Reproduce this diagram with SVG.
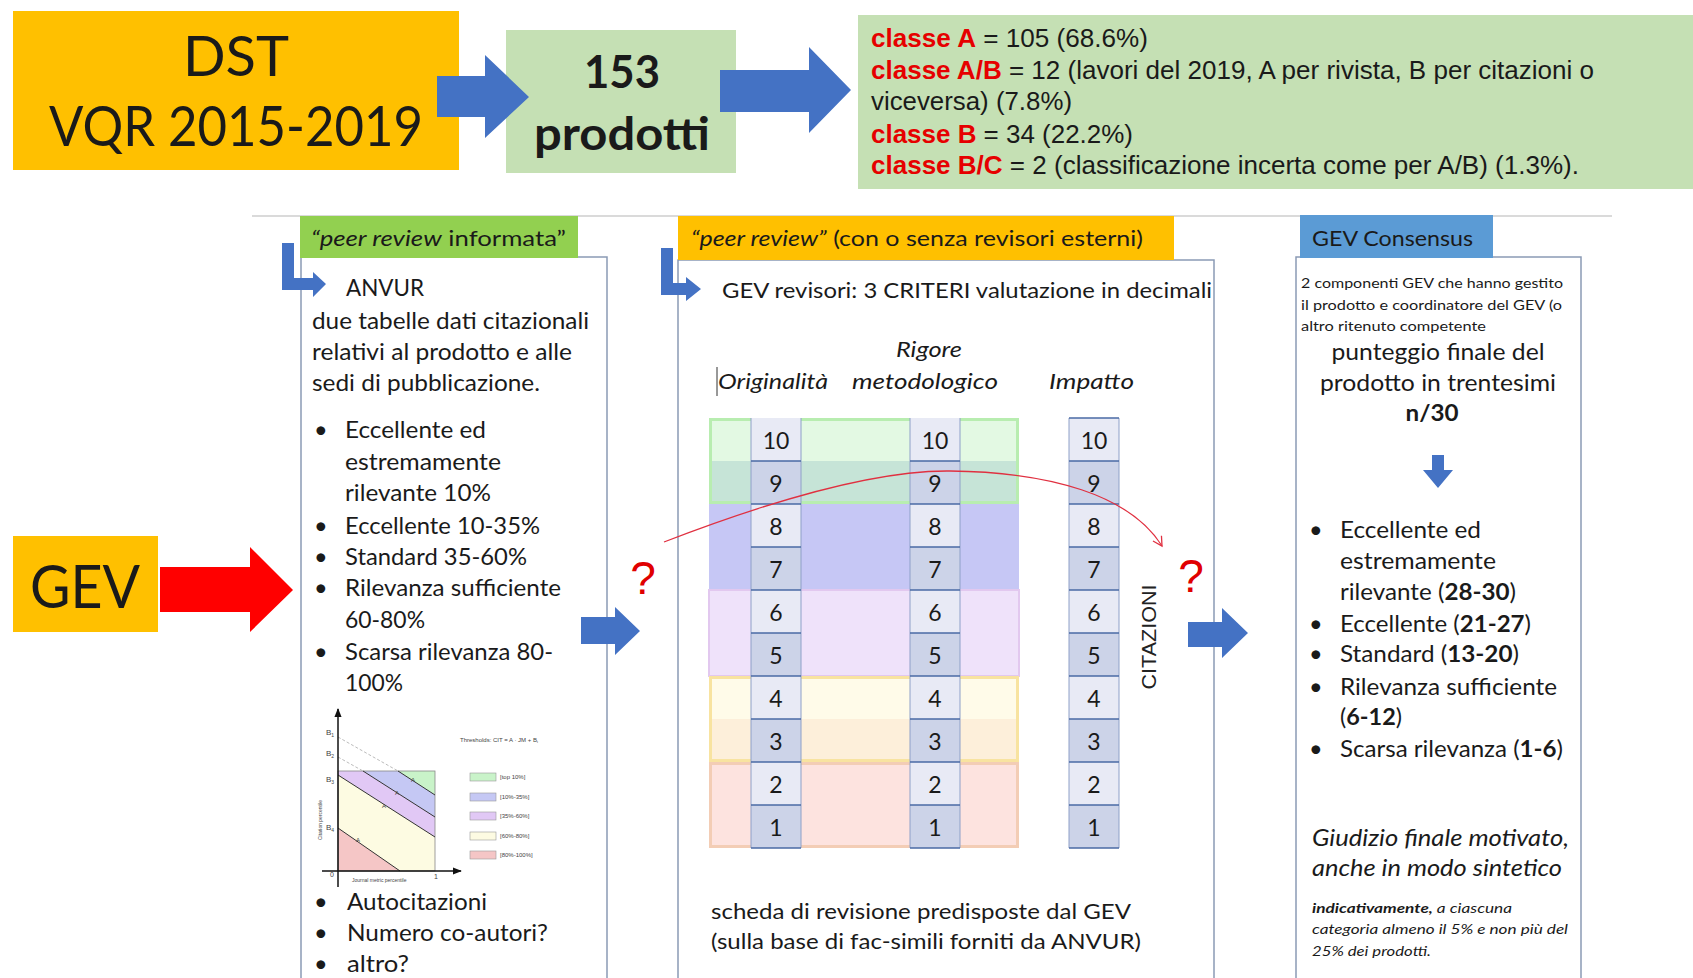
<svg xmlns="http://www.w3.org/2000/svg" width="1693" height="978" viewBox="0 0 1693 978">
<style>
.f{font-family:Lato,"Open Sans","Liberation Sans",sans-serif;fill:#1a1a1a}
.a{font-family:"Liberation Sans",Arial,sans-serif}
.red{fill:#e60000;font-weight:bold}
.blk{fill:#1a1a1a}
.b{font-weight:bold}
.i{font-style:italic}
.panel{fill:none;stroke:#8a9bb5;stroke-width:1.5}
.blue{fill:#4472c4}
.num{font-family:Lato,"Open Sans",sans-serif;font-size:23px;fill:#1a1a1a;text-anchor:middle}
.cl{fill:#e8eaf5}
.cd{fill:#ccd3e8}
.rl{stroke:#4a6aa5;stroke-width:1.3}
.vl{stroke:#8ea0c8;stroke-width:1}
.q{font-family:"Liberation Sans",sans-serif;font-size:46px;fill:#e00000;text-anchor:middle}
.ch{font-family:"Liberation Sans",sans-serif;fill:#444}
</style>
<defs>
<marker id="redv" viewBox="0 0 12 12" refX="10" refY="6" markerWidth="12" markerHeight="12" markerUnits="userSpaceOnUse" orient="auto">
<path d="M1,1 L10,6 L1,11" fill="none" stroke="#e03040" stroke-width="1.3"/>
</marker>
<marker id="axh" viewBox="0 0 10 10" refX="9" refY="5" markerWidth="9" markerHeight="9" markerUnits="userSpaceOnUse" orient="auto">
<path d="M0,1 L10,5 L0,9 Z" fill="#111"/>
</marker>
</defs>
<rect width="1693" height="978" fill="#ffffff"/>

<!-- top row -->
<g id="dst">
<rect x="13" y="11" width="446" height="159" fill="#ffc000"/>
<text class="f" x="236" y="76" font-size="56" text-anchor="middle">DST</text>
<text class="f" x="236" y="146" font-size="56" text-anchor="middle" textLength="374" lengthAdjust="spacingAndGlyphs">VQR 2015-2019</text>
</g>
<g id="prodotti">
<rect x="506" y="30" width="230" height="143" fill="#c5e0b4"/>
<text class="f b" x="622" y="88" font-size="46" text-anchor="middle" textLength="76" lengthAdjust="spacingAndGlyphs">153</text>
<text class="f b" x="622" y="150" font-size="46" text-anchor="middle" textLength="176" lengthAdjust="spacingAndGlyphs">prodotti</text>
</g>
<g id="classi">
<rect x="858" y="15" width="835" height="174" fill="#c5e0b4"/>
<text class="a" font-size="25" x="871" y="47" textLength="277" lengthAdjust="spacingAndGlyphs"><tspan class="red">classe A</tspan><tspan class="blk"> = 105 (68.6%)</tspan></text>
<text class="a" font-size="25" x="871" y="79" textLength="723" lengthAdjust="spacingAndGlyphs"><tspan class="red">classe A/B</tspan><tspan class="blk"> = 12 (lavori del 2019, A per rivista, B per citazioni o</tspan></text>
<text class="a blk" font-size="25" x="871" y="110" textLength="201" lengthAdjust="spacingAndGlyphs">viceversa) (7.8%)</text>
<text class="a" font-size="25" x="871" y="143" textLength="262" lengthAdjust="spacingAndGlyphs"><tspan class="red">classe B</tspan><tspan class="blk"> = 34 (22.2%)</tspan></text>
<text class="a" font-size="25" x="871" y="174" textLength="708" lengthAdjust="spacingAndGlyphs"><tspan class="red">classe B/C</tspan><tspan class="blk"> = 2 (classificazione incerta come per A/B) (1.3%).</tspan></text>
</g>

<line x1="252" y1="216" x2="1612" y2="216" stroke="#dadada" stroke-width="2"/>

<g id="gev">
<rect x="13" y="536" width="145" height="96" fill="#ffc000"/>
<text class="f" x="85" y="608" font-size="60" text-anchor="middle" textLength="110" lengthAdjust="spacingAndGlyphs">GEV</text>
</g>

<!-- left panel -->
<g id="panel-informata">
<path class="panel" d="M301,990 V257 H607 V990"/>
<rect x="300" y="216" width="278" height="42" fill="#92d050"/>
<text class="f" x="311" y="246" font-size="22" textLength="255" lengthAdjust="spacingAndGlyphs"><tspan class="i">“peer review</tspan> informata”</text>
<text class="f" x="346" y="296" font-size="23.5" textLength="78" lengthAdjust="spacingAndGlyphs">ANVUR</text>
<text class="f" x="312" y="329" font-size="23.5" textLength="277" lengthAdjust="spacingAndGlyphs">due tabelle dati citazionali</text>
<text class="f" x="312" y="360" font-size="23.5" textLength="260" lengthAdjust="spacingAndGlyphs">relativi al prodotto e alle</text>
<text class="f" x="312" y="391" font-size="23.5" textLength="228" lengthAdjust="spacingAndGlyphs">sedi di pubblicazione.</text>
<g class="f" font-size="23.5">
<text x="314" y="438">•</text><text x="345" y="438" textLength="141" lengthAdjust="spacingAndGlyphs">Eccellente ed</text>
<text x="345" y="470" textLength="156" lengthAdjust="spacingAndGlyphs">estremamente</text>
<text x="345" y="501" textLength="146" lengthAdjust="spacingAndGlyphs">rilevante 10%</text>
<text x="314" y="534">•</text><text x="345" y="534" textLength="195" lengthAdjust="spacingAndGlyphs">Eccellente 10-35%</text>
<text x="314" y="565">•</text><text x="345" y="565" textLength="182" lengthAdjust="spacingAndGlyphs">Standard 35-60%</text>
<text x="314" y="596">•</text><text x="345" y="596" textLength="216" lengthAdjust="spacingAndGlyphs">Rilevanza sufficiente</text>
<text x="345" y="628" textLength="80" lengthAdjust="spacingAndGlyphs">60-80%</text>
<text x="314" y="660">•</text><text x="345" y="660" textLength="208" lengthAdjust="spacingAndGlyphs">Scarsa rilevanza 80-</text>
<text x="345" y="691" textLength="58" lengthAdjust="spacingAndGlyphs">100%</text>
<text x="314" y="910">•</text><text x="347" y="910" textLength="140" lengthAdjust="spacingAndGlyphs">Autocitazioni</text>
<text x="314" y="941">•</text><text x="347" y="941" textLength="201" lengthAdjust="spacingAndGlyphs">Numero co-autori?</text>
<text x="314" y="972">•</text><text x="347" y="972" textLength="62" lengthAdjust="spacingAndGlyphs">altro?</text>
</g>
<!-- chart -->
<g id="chart">
<polygon points="398,771 435,771 435,795" fill="#c9f3c9"/>
<polygon points="363,771 398,771 435,795 435,817" fill="#c5c8f4"/>
<polygon points="338,771 363,771 435,817 435,837 338,775" fill="#e1c8f5"/>
<polygon points="338,775 435,837 435,871 400,871 338,828" fill="#fdfbe2"/>
<polygon points="338,828 400,871 338,871" fill="#f5c6c6"/>
<rect x="338" y="771" width="97" height="100" fill="none" stroke="#888" stroke-width="0.8"/>
<g stroke="#333" stroke-width="1" fill="none">
<line x1="398" y1="771" x2="435" y2="795"/>
<line x1="363" y1="771" x2="435" y2="817"/>
<line x1="338" y1="775" x2="435" y2="837"/>
<line x1="338" y1="828" x2="400" y2="871"/>
</g>
<g stroke="#aaa" stroke-width="0.8" stroke-dasharray="3,2">
<line x1="338" y1="737" x2="398" y2="771"/>
<line x1="338" y1="757" x2="363" y2="771"/>
</g>
<line x1="338" y1="887" x2="338" y2="709" stroke="#111" stroke-width="1.5" marker-end="url(#axh)"/>
<line x1="322" y1="871" x2="461" y2="871" stroke="#111" stroke-width="1.5" marker-end="url(#axh)"/>
<g class="ch" font-size="8">
<text x="326" y="735">B<tspan font-size="5" dy="2">1</tspan></text>
<text x="326" y="756">B<tspan font-size="5" dy="2">2</tspan></text>
<text x="326" y="782">B<tspan font-size="5" dy="2">3</tspan></text>
<text x="326" y="830">B<tspan font-size="5" dy="2">4</tspan></text>
<text x="330" y="877" font-size="7">0</text>
<text x="434" y="879" font-size="7">1</text>
</g>
<g class="ch" font-size="6">
<text x="411" y="782">A</text>
<text x="395" y="795">A</text>
<text x="382" y="808">A</text>
<text x="356" y="842">A</text>
<text x="352" y="882" font-size="5">Journal metric percentile</text>
<text x="322" y="820" font-size="5" text-anchor="middle" transform="rotate(-90 322 820)">Citation percentile</text>
<text x="460" y="742" font-size="6">Thresholds:  CIT = A · JM + B<tspan font-size="4" dy="1">i</tspan></text>
</g>
<g stroke="#999" stroke-width="0.6">
<rect x="470" y="773" width="26" height="8" fill="#c9f3c9"/>
<rect x="470" y="793" width="26" height="8" fill="#c5c8f4"/>
<rect x="470" y="812" width="26" height="8" fill="#e1c8f5"/>
<rect x="470" y="832" width="26" height="8" fill="#fdfbe2"/>
<rect x="470" y="851" width="26" height="8" fill="#f5c6c6"/>
</g>
<g class="ch" font-size="6">
<text x="500" y="779">[top 10%]</text>
<text x="500" y="799">[10%-35%]</text>
<text x="500" y="818">[35%-60%]</text>
<text x="500" y="838">[60%-80%]</text>
<text x="500" y="857">[80%-100%]</text>
</g>
</g>
</g>

<!-- middle panel -->
<g id="panel-peer">
<path class="panel" d="M678,990 V260 H1214 V990"/>
<rect x="678" y="216" width="496" height="44" fill="#ffc000"/>
<text class="f" x="691" y="246" font-size="22" textLength="452" lengthAdjust="spacingAndGlyphs"><tspan class="i">“peer review”</tspan> (con o senza revisori esterni)</text>
<text class="f" x="722" y="298" font-size="22" textLength="490" lengthAdjust="spacingAndGlyphs">GEV revisori: 3 CRITERI valutazione in decimali</text>
<text class="f i" x="929" y="357" font-size="21" text-anchor="middle" textLength="66" lengthAdjust="spacingAndGlyphs">Rigore</text>
<text class="f i" x="718" y="389" font-size="21" textLength="110" lengthAdjust="spacingAndGlyphs">Originalità</text>
<line x1="717" y1="367" x2="717" y2="396" stroke="#333" stroke-width="1"/>
<text class="f i" x="852" y="389" font-size="21" textLength="146" lengthAdjust="spacingAndGlyphs">metodologico</text>
<text class="f i" x="1049" y="389" font-size="21" textLength="85" lengthAdjust="spacingAndGlyphs">Impatto</text>

<g id="bands">
<rect x="709" y="418" width="310" height="43" fill="#e3f9e3"/>
<rect x="709" y="461" width="310" height="43" fill="#c6e4d7"/>
<rect x="710.5" y="419.5" width="307" height="83" fill="none" stroke="#b8edb0" stroke-width="3"/>
<rect x="709" y="504" width="310" height="86" fill="#c6c7f5"/>
<rect x="709" y="590" width="310" height="86" fill="#efe2fa" stroke="#e2c8ef" stroke-width="2"/>
<rect x="709" y="676" width="310" height="43" fill="#fffbe9"/>
<rect x="709" y="719" width="310" height="43" fill="#fdefda"/>
<rect x="710.5" y="677.5" width="307" height="83" fill="none" stroke="#f8e3a0" stroke-width="3"/>
<rect x="710.5" y="763.5" width="307" height="83" fill="#fde3df" stroke="#f3cdb5" stroke-width="3"/>
</g>
<g id="cells">
<g transform="translate(751,0)">
<rect class="cl" x="0" y="418" width="50" height="43"/><rect class="cd" x="0" y="461" width="50" height="43"/>
<rect class="cl" x="0" y="504" width="50" height="43"/><rect class="cd" x="0" y="547" width="50" height="43"/>
<rect class="cl" x="0" y="590" width="50" height="43"/><rect class="cd" x="0" y="633" width="50" height="43"/>
<rect class="cl" x="0" y="676" width="50" height="43"/><rect class="cd" x="0" y="719" width="50" height="43"/>
<rect class="cl" x="0" y="762" width="50" height="43"/><rect class="cd" x="0" y="805" width="50" height="43"/>
<line class="vl" x1="0" y1="418" x2="0" y2="848"/><line class="vl" x1="50" y1="418" x2="50" y2="848"/>
<g class="rl"><line x1="0" y1="461" x2="50" y2="461"/><line x1="0" y1="504" x2="50" y2="504"/><line x1="0" y1="547" x2="50" y2="547"/><line x1="0" y1="590" x2="50" y2="590"/><line x1="0" y1="633" x2="50" y2="633"/><line x1="0" y1="676" x2="50" y2="676"/><line x1="0" y1="719" x2="50" y2="719"/><line x1="0" y1="762" x2="50" y2="762"/><line x1="0" y1="805" x2="50" y2="805"/><line x1="0" y1="848" x2="50" y2="848"/></g>
<g class="num"><text x="25" y="449">10</text><text x="25" y="492">9</text><text x="25" y="535">8</text><text x="25" y="578">7</text><text x="25" y="621">6</text><text x="25" y="664">5</text><text x="25" y="707">4</text><text x="25" y="750">3</text><text x="25" y="793">2</text><text x="25" y="836">1</text></g>
</g>
<g transform="translate(910,0)">
<rect class="cl" x="0" y="418" width="50" height="43"/><rect class="cd" x="0" y="461" width="50" height="43"/>
<rect class="cl" x="0" y="504" width="50" height="43"/><rect class="cd" x="0" y="547" width="50" height="43"/>
<rect class="cl" x="0" y="590" width="50" height="43"/><rect class="cd" x="0" y="633" width="50" height="43"/>
<rect class="cl" x="0" y="676" width="50" height="43"/><rect class="cd" x="0" y="719" width="50" height="43"/>
<rect class="cl" x="0" y="762" width="50" height="43"/><rect class="cd" x="0" y="805" width="50" height="43"/>
<line class="vl" x1="0" y1="418" x2="0" y2="848"/><line class="vl" x1="50" y1="418" x2="50" y2="848"/>
<g class="rl"><line x1="0" y1="461" x2="50" y2="461"/><line x1="0" y1="504" x2="50" y2="504"/><line x1="0" y1="547" x2="50" y2="547"/><line x1="0" y1="590" x2="50" y2="590"/><line x1="0" y1="633" x2="50" y2="633"/><line x1="0" y1="676" x2="50" y2="676"/><line x1="0" y1="719" x2="50" y2="719"/><line x1="0" y1="762" x2="50" y2="762"/><line x1="0" y1="805" x2="50" y2="805"/><line x1="0" y1="848" x2="50" y2="848"/></g>
<g class="num"><text x="25" y="449">10</text><text x="25" y="492">9</text><text x="25" y="535">8</text><text x="25" y="578">7</text><text x="25" y="621">6</text><text x="25" y="664">5</text><text x="25" y="707">4</text><text x="25" y="750">3</text><text x="25" y="793">2</text><text x="25" y="836">1</text></g>
</g>
<g transform="translate(1069,0)">
<rect class="cl" x="0" y="418" width="50" height="43"/><rect class="cd" x="0" y="461" width="50" height="43"/>
<rect class="cl" x="0" y="504" width="50" height="43"/><rect class="cd" x="0" y="547" width="50" height="43"/>
<rect class="cl" x="0" y="590" width="50" height="43"/><rect class="cd" x="0" y="633" width="50" height="43"/>
<rect class="cl" x="0" y="676" width="50" height="43"/><rect class="cd" x="0" y="719" width="50" height="43"/>
<rect class="cl" x="0" y="762" width="50" height="43"/><rect class="cd" x="0" y="805" width="50" height="43"/>
<line class="vl" x1="0" y1="418" x2="0" y2="848"/><line class="vl" x1="50" y1="418" x2="50" y2="848"/>
<g class="rl"><line x1="0" y1="418" x2="50" y2="418"/><line x1="0" y1="461" x2="50" y2="461"/><line x1="0" y1="504" x2="50" y2="504"/><line x1="0" y1="547" x2="50" y2="547"/><line x1="0" y1="590" x2="50" y2="590"/><line x1="0" y1="633" x2="50" y2="633"/><line x1="0" y1="676" x2="50" y2="676"/><line x1="0" y1="719" x2="50" y2="719"/><line x1="0" y1="762" x2="50" y2="762"/><line x1="0" y1="805" x2="50" y2="805"/><line x1="0" y1="848" x2="50" y2="848"/></g>
<g class="num"><text x="25" y="449">10</text><text x="25" y="492">9</text><text x="25" y="535">8</text><text x="25" y="578">7</text><text x="25" y="621">6</text><text x="25" y="664">5</text><text x="25" y="707">4</text><text x="25" y="750">3</text><text x="25" y="793">2</text><text x="25" y="836">1</text></g>
</g>
</g>
<text class="a" x="1149" y="644" font-size="20" fill="#222" text-anchor="middle" textLength="105" lengthAdjust="spacingAndGlyphs" transform="rotate(-90 1149 637)">CITAZIONI</text>
<text class="f" x="711" y="919" font-size="22" textLength="420" lengthAdjust="spacingAndGlyphs">scheda di revisione predisposte dal GEV</text>
<text class="f" x="711" y="949" font-size="22" textLength="430" lengthAdjust="spacingAndGlyphs">(sulla base di fac-simili forniti da ANVUR)</text>
</g>

<!-- right panel -->
<g id="panel-consensus">
<path class="panel" d="M1296,990 V257 H1581 V990"/>
<rect x="1300" y="215" width="193" height="43" fill="#5b9bd5"/>
<text class="f" x="1312" y="246" font-size="22" fill="#1f2d3d" textLength="161" lengthAdjust="spacingAndGlyphs">GEV Consensus</text>
<text class="f" x="1301" y="288" font-size="14" textLength="262" lengthAdjust="spacingAndGlyphs">2 componenti GEV che hanno gestito</text>
<text class="f" x="1301" y="310" font-size="14" textLength="261" lengthAdjust="spacingAndGlyphs">il prodotto e coordinatore del GEV (o</text>
<text class="f" x="1301" y="331" font-size="14" textLength="185" lengthAdjust="spacingAndGlyphs">altro ritenuto competente</text>
<text class="f" x="1438" y="360" font-size="23.5" text-anchor="middle" textLength="213" lengthAdjust="spacingAndGlyphs">punteggio finale del</text>
<text class="f" x="1438" y="391" font-size="23.5" text-anchor="middle" textLength="236" lengthAdjust="spacingAndGlyphs">prodotto in trentesimi</text>
<text class="f b" x="1432" y="421" font-size="23.5" text-anchor="middle" textLength="53" lengthAdjust="spacingAndGlyphs">n/30</text>
<g class="f" font-size="23.5">
<text x="1309" y="538">•</text><text x="1340" y="538" textLength="141" lengthAdjust="spacingAndGlyphs">Eccellente ed</text>
<text x="1340" y="569" textLength="156" lengthAdjust="spacingAndGlyphs">estremamente</text>
<text x="1340" y="600" textLength="176" lengthAdjust="spacingAndGlyphs">rilevante (<tspan class="b">28-30</tspan>)</text>
<text x="1309" y="632">•</text><text x="1340" y="632" textLength="191" lengthAdjust="spacingAndGlyphs">Eccellente (<tspan class="b">21-27</tspan>)</text>
<text x="1309" y="662">•</text><text x="1340" y="662" textLength="179" lengthAdjust="spacingAndGlyphs">Standard (<tspan class="b">13-20</tspan>)</text>
<text x="1309" y="695">•</text><text x="1340" y="695" textLength="217" lengthAdjust="spacingAndGlyphs">Rilevanza sufficiente</text>
<text x="1340" y="725" textLength="62" lengthAdjust="spacingAndGlyphs">(<tspan class="b">6-12</tspan>)</text>
<text x="1309" y="757">•</text><text x="1340" y="757" textLength="223" lengthAdjust="spacingAndGlyphs">Scarsa rilevanza (<tspan class="b">1-6</tspan>)</text>
</g>
<text class="f i" x="1312" y="846" font-size="23.5" textLength="257" lengthAdjust="spacingAndGlyphs">Giudizio finale motivato,</text>
<text class="f i" x="1312" y="876" font-size="23.5" textLength="250" lengthAdjust="spacingAndGlyphs">anche in modo sintetico</text>
<text class="f i" x="1312" y="913" font-size="14" textLength="200" lengthAdjust="spacingAndGlyphs"><tspan class="b">indicativamente,</tspan> a ciascuna</text>
<text class="f i" x="1312" y="934" font-size="14" textLength="256" lengthAdjust="spacingAndGlyphs">categoria almeno il 5% e non più del</text>
<text class="f i" x="1312" y="956" font-size="14" textLength="119" lengthAdjust="spacingAndGlyphs">25% dei prodotti.</text>
</g>

<!-- connectors -->
<g id="connectors">
<polygon class="blue" points="437,76 485,76 485,55 529,97 485,138 485,117 437,117"/>
<polygon class="blue" points="720,70 809,70 809,47 851,90 809,133 809,112 720,112"/>
<polygon fill="#ff0000" points="160,567 250,567 250,547 293,590 250,632 250,612 160,612"/>
<path class="blue" d="M282,243 H294 V278 H313 V272 L326,284 L313,297 V290 H282 Z"/>
<path class="blue" d="M661,248 H673 V283 H686 V277 L701,289 L686,301 V295 H661 Z"/>
<polygon class="blue" points="581,617 615,617 615,607 640,631 615,655 615,644 581,644"/>
<polygon class="blue" points="1188,622 1222,622 1222,608 1248,633 1222,658 1222,647 1188,647"/>
<polygon class="blue" points="1432,455 1444,455 1444,470 1453,470 1438,488 1423,470 1432,470"/>
<path d="M664,542 C760,505 870,470 950,471 C1050,472 1130,495 1162,546" fill="none" stroke="#e03040" stroke-width="1.3" marker-end="url(#redv)"/>
<text class="q" x="643" y="594">?</text>
<text class="q" x="1191" y="592">?</text>
</g>
</svg>
